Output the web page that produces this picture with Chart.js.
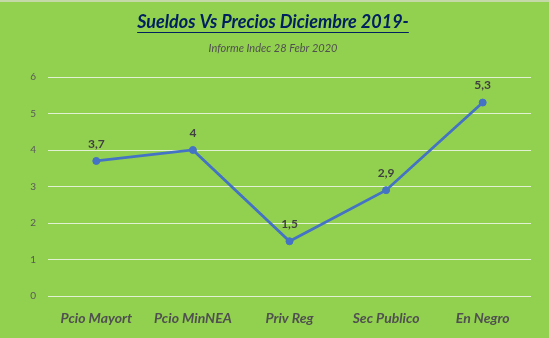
<!DOCTYPE html>
<html>
<head>
<meta charset="utf-8">
<script src="https://cdn.jsdelivr.net/npm/chart.js@4/dist/chart.umd.min.js"></script>
<style>
  html, body { margin: 0; padding: 0; background: #92d050; }
  #wrap { position: relative; width: 549px; height: 338px; border-top: 2px solid #c5d9a8; box-sizing: border-box; }
  canvas { display: block; }
</style>
</head>
<body>
<div id="wrap"><canvas id="chart" width="549" height="336"></canvas></div>
<script>
// Data
const categories = ['Pcio Mayort', 'Pcio MinNEA', 'Priv Reg', 'Sec Publico', 'En Negro'];
const values = [3.7, 4, 1.5, 2.9, 5.3];
const yTicks = [0, 1, 2, 3, 4, 5, 6];
const titleText = 'Sueldos Vs Precios Diciembre 2019-';
const subtitleText = 'Informe Indec 28 Febr 2020';

const FONT = 'Lato, "Open Sans", sans-serif';
const fmt = v => String(v).replace('.', ',');

// title block + value labels drawn on the canvas
const headerPlugin = {
  id: 'header',
  afterDraw(chart) {
    const ctx = chart.ctx;
    const cx = 273;
    ctx.save();
    ctx.textAlign = 'center';
    ctx.textBaseline = 'alphabetic';
    ctx.fillStyle = '#002060';
    ctx.font = 'italic bold 18px ' + FONT;
    ctx.fillText(titleText, cx, 26);
    const w = ctx.measureText(titleText).width;
    ctx.strokeStyle = '#002060';
    ctx.lineWidth = 1;
    ctx.beginPath();
    ctx.moveTo(cx - w / 2, 30.5);
    ctx.lineTo(cx + w / 2, 30.5);
    ctx.stroke();

    ctx.fillStyle = '#505050';
    ctx.font = 'italic 11px ' + FONT;
    ctx.fillText(subtitleText, cx, 50);

    // value labels above each point
    const meta = chart.getDatasetMeta(0);
    ctx.fillStyle = '#404040';
    ctx.font = 'bold 12px ' + FONT;
    ctx.textBaseline = 'middle';
    meta.data.forEach((pt, i) => {
      ctx.fillText(fmt(values[i]), pt.x, pt.y - 17);
    });
    ctx.restore();
  }
};

new Chart(document.getElementById('chart'), {
  type: 'line',
  data: {
    labels: categories,
    datasets: [{
      data: values,
      borderColor: '#4472c4',
      backgroundColor: '#4472c4',
      borderWidth: 2.75,
      pointRadius: 3.5,
      pointBorderWidth: 1,
      pointHoverRadius: 3.5,
      tension: 0,
      fill: false
    }]
  },
  options: {
    responsive: false,
    animation: false,
    events: [],
    layout: { padding: { top: 75, right: 18, left: 0, bottom: 0 } },
    plugins: {
      legend: { display: false },
      title: { display: false },
      tooltip: { enabled: false }
    },
    scales: {
      x: {
        offset: true,
        grid: { display: false },
        border: { display: false },
        ticks: {
          color: '#505050',
          font: { family: FONT, size: 14, style: 'italic', weight: 'bold' },
          padding: 6
        },
        afterFit(scale) { scale.height = 42; }
      },
      y: {
        min: 0,
        max: 6,
        afterBuildTicks(scale) { scale.ticks = yTicks.map(v => ({ value: v })); },
        grid: { color: '#e2f0d4', lineWidth: 1, drawTicks: false },
        border: { display: false },
        ticks: {
          color: '#595959',
          font: { family: FONT, size: 10 },
          padding: 12
        },
        afterFit(scale) { scale.width = 48; }
      }
    }
  },
  plugins: [headerPlugin]
});
</script>
</body>
</html>
